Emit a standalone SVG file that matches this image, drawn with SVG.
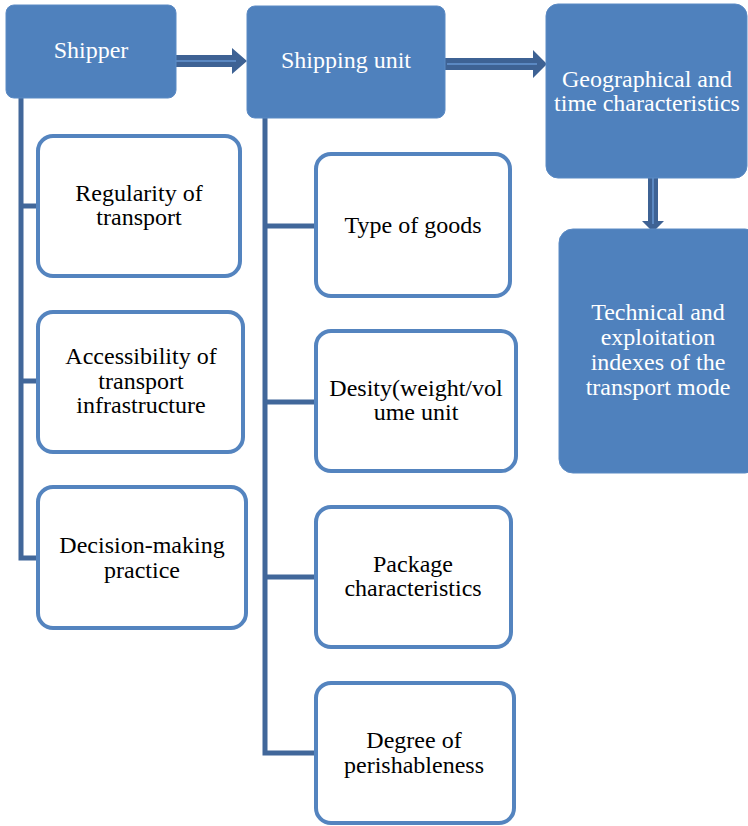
<svg xmlns="http://www.w3.org/2000/svg" width="748" height="826" viewBox="0 0 748 826">
  <style>
    .solid { fill: #4f81bd; stroke: #5b8ac4; stroke-width: 1; }
    .outline { fill: #ffffff; stroke: #5484bf; stroke-width: 4; }
    .tree { fill: none; stroke: #41679a; stroke-width: 5; }
    .arrow { fill: #3e6294; }
    .stripe { stroke: #5b88c2; stroke-width: 2; }
  </style>

  <!-- connectors -->
  <g id="connectors">
    <!-- shipper tree -->
    <polyline class="tree" points="21,98 21,558 38,558"/>
    <line class="tree" x1="21" y1="206" x2="38" y2="206"/>
    <line class="tree" x1="21" y1="381" x2="38" y2="381"/>
    <!-- shipping unit tree -->
    <polyline class="tree" points="265,118 265,753 316,753"/>
    <line class="tree" x1="265" y1="226" x2="316" y2="226"/>
    <line class="tree" x1="265" y1="402" x2="316" y2="402"/>
    <line class="tree" x1="265" y1="577" x2="316" y2="577"/>
    <!-- block arrows -->
    <polygon class="arrow" points="172,55 232,55 232,48 247,61 232,74 232,67 172,67"/>
    <line class="stripe" x1="174" y1="61" x2="236" y2="61"/>
    <polygon class="arrow" points="445,58 533,58 533,50 547,64 533,78 533,70 445,70"/>
    <line class="stripe" x1="447" y1="64" x2="537" y2="64"/>
    <polygon class="arrow" points="648,176 658,176 658,221 664,221 653,232 642,221 648,221"/>
    <line class="stripe" x1="653" y1="178" x2="653" y2="224"/>
  </g>

  <!-- filled header boxes, white labels -->
  <g font-family="'Liberation Serif', serif" font-size="24" fill="#ffffff" text-anchor="middle">
    <g id="shipper">
      <rect class="solid" x="6" y="5" width="170" height="93" rx="8"/>
      <text x="91" y="58">Shipper</text>
    </g>
    <g id="shipping-unit">
      <rect class="solid" x="247" y="6" width="198" height="112" rx="8"/>
      <text x="346" y="68">Shipping unit</text>
    </g>
    <g id="geo-time">
      <rect class="solid" x="546" y="4" width="201" height="174" rx="12"/>
      <text x="647" y="87">Geographical and</text>
      <text x="647" y="111">time characteristics</text>
    </g>
    <g id="technical">
      <rect class="solid" x="559" y="229" width="200" height="244" rx="14"/>
      <text x="658" y="320">Technical and</text>
      <text x="658" y="345">exploitation</text>
      <text x="658" y="370">indexes of the</text>
      <text x="658" y="395">transport mode</text>
    </g>
  </g>

  <!-- outlined factor boxes, black labels -->
  <g font-family="'Liberation Serif', serif" font-size="24" fill="#000000" text-anchor="middle">
    <g id="regularity">
      <rect class="outline" x="38" y="136" width="202" height="140" rx="15"/>
      <text x="139" y="201">Regularity of</text>
      <text x="139" y="225">transport</text>
    </g>
    <g id="accessibility">
      <rect class="outline" x="38" y="312" width="205" height="140" rx="15"/>
      <text x="141" y="364">Accessibility of</text>
      <text x="141" y="389">transport</text>
      <text x="141" y="413">infrastructure</text>
    </g>
    <g id="decision">
      <rect class="outline" x="38" y="487" width="208" height="141" rx="15"/>
      <text x="142" y="553">Decision-making</text>
      <text x="142" y="578">practice</text>
    </g>

    <g id="type-of-goods">
      <rect class="outline" x="316" y="154" width="194" height="142" rx="15"/>
      <text x="413" y="233">Type of goods</text>
    </g>
    <g id="density">
      <rect class="outline" x="316" y="331" width="200" height="140" rx="15"/>
      <text x="416" y="396">Desity(weight/vol</text>
      <text x="416" y="420">ume unit</text>
    </g>
    <g id="package">
      <rect class="outline" x="316" y="507" width="195" height="140" rx="15"/>
      <text x="413" y="572">Package</text>
      <text x="413" y="596">characteristics</text>
    </g>
    <g id="perishableness">
      <rect class="outline" x="316" y="683" width="198" height="140" rx="15"/>
      <text x="414" y="748">Degree of</text>
      <text x="414" y="773">perishableness</text>
    </g>
  </g>
</svg>
